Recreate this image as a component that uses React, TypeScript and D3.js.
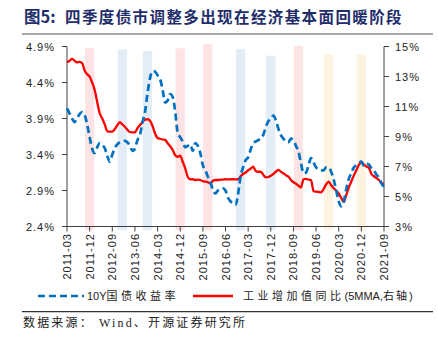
import React from "react";
import * as d3 from "d3";

const startYear = 2011;
const startMonth = 3;
const monthCount = 127;
const months: string[] = Array.from({ length: monthCount }, (_, i) => {
  const t = startMonth - 1 + i;
  const y = startYear + Math.floor(t / 12);
  const m = (t % 12) + 1;
  return `${y}-${String(m).padStart(2, "0")}`;
});

const tickLabels = [
  "2011-03", "2011-12", "2012-09", "2013-06", "2014-03", "2014-12", "2015-09", "2016-06",
  "2017-03", "2017-12", "2018-09", "2019-06", "2020-03", "2020-12", "2021-09",
];
const leftTicks = [2.4, 2.9, 3.4, 3.9, 4.4, 4.9];
const rightTicks = [3, 5, 7, 9, 11, 13, 15];

const yield10Y = [
  4.04, 3.97, 3.9, 3.85, 3.9, 3.96, 3.99, 3.95, 3.82, 3.64,
  3.48, 3.42, 3.5, 3.56, 3.53, 3.49, 3.38, 3.3, 3.4, 3.49,
  3.54, 3.57, 3.58, 3.59, 3.57, 3.52, 3.45, 3.48, 3.6, 3.67,
  3.85, 3.99, 4.25, 4.46, 4.56, 4.55, 4.5, 4.45, 4.3, 4.12,
  4.15, 4.24, 4.2, 4.0, 3.7, 3.64, 3.58, 3.5, 3.52, 3.54,
  3.45, 3.56, 3.52, 3.42, 3.25, 3.18, 3.09, 3.02, 2.9, 2.86,
  2.9, 2.92, 2.93, 2.9, 2.8, 2.75, 2.72, 2.7, 2.85, 3.1,
  3.22, 3.32, 3.36, 3.47, 3.56, 3.58, 3.6, 3.62, 3.67, 3.78,
  3.86, 3.9, 3.94, 3.88, 3.76, 3.67, 3.62, 3.58, 3.57, 3.62,
  3.6, 3.52, 3.44, 3.28, 3.14, 3.15, 3.25, 3.35, 3.29, 3.22,
  3.2, 3.18, 3.18, 3.22, 3.22, 3.16, 3.05, 2.9, 2.75, 2.68,
  2.74, 2.92, 3.06, 3.14, 3.22, 3.25, 3.28, 3.3, 3.24, 3.27,
  3.26, 3.21, 3.18, 3.12, 3.08, 3.0, 2.95,
];

const ivaYoY5MMA = [
  13.95, 14.05, 14.17, 14.05, 13.95, 13.98, 13.9, 13.4, 13.15, 12.99,
  12.6, 12.1, 11.3, 10.55, 10.2, 9.8, 9.35, 9.32, 9.32, 9.5,
  9.75, 9.95, 9.8, 9.65, 9.45, 9.3, 9.28, 9.28, 9.55, 9.77,
  9.95, 10.12, 10.15, 10.05, 9.7, 9.2, 8.9, 8.85, 8.8, 8.77,
  8.55, 8.35, 8.1, 7.75, 7.65, 7.72, 7.3, 6.88, 6.3, 6.15,
  6.15, 6.1, 6.12, 6.1, 6.02, 5.99, 5.95, 5.88, 6.05, 6.1,
  6.1, 6.12, 6.13, 6.15, 6.14, 6.15, 6.15, 6.14, 6.15, 6.35,
  6.5, 6.6, 6.75, 6.85, 6.99, 6.7, 6.65, 6.65, 6.45, 6.28,
  6.3, 6.38, 6.5, 6.65, 6.77, 6.65, 6.55, 6.42, 6.32, 6.1,
  5.95, 5.85, 5.72, 5.6, 6.15, 6.18, 6.12, 6.1, 5.35, 5.32,
  5.3, 5.28, 5.5, 5.8, 5.99, 5.75, 5.55, 5.4, 5.2, 4.9,
  4.65, 5.1, 5.6, 6.0, 6.4, 6.75, 7.1, 7.32, 7.12, 7.0,
  6.9, 6.5, 6.35, 6.22, 6.1, 5.88, 5.85,
];

const bandCenters = [
  "2011-12", "2013-01", "2013-11", "2014-12", "2015-11",
  "2016-12", "2017-12", "2018-11", "2019-11", "2020-12",
];
const bandTops = [4.875, 4.861, 4.838, 4.875, 4.93, 4.861, 4.772, 4.907, 4.79, 4.79];
const bandKinds = ["pink", "blue", "blue", "pink", "pink", "blue", "blue", "pink", "yellow", "yellow"];

const titleText = "四季度债市调整多出现在经济基本面回暖阶段";

const bandColor: Record<string, string> = {
  pink: "#fde3e3",
  blue: "#e2edf8",
  yellow: "#fdf3e0",
};

const W = 438;
const H = 338;
const plotL = 67;
const plotR = 384;
const plotT = 46.5;
const plotB = 226.5;
const bandWidthMonths = 3.7;
const bandBottom = 2.35;

const latin = "'Liberation Sans', Arial, Helvetica, sans-serif";
const cjk = "'Liberation Sans', 'Noto Sans CJK SC', sans-serif";

export default function App() {
  const x = d3.scaleLinear().domain([0, monthCount - 1]).range([plotL, plotR]);
  const yL = d3.scaleLinear().domain([2.4, 4.9]).range([plotB, plotT]);
  const yR = d3.scaleLinear().domain([3, 15]).range([plotB, plotT]);

  const lineL = d3
    .line<number>()
    .x((_, i) => x(i))
    .y((d) => yL(d))
    .curve(d3.curveMonotoneX);
  const lineR = d3
    .line<number>()
    .x((_, i) => x(i))
    .y((d) => yR(d))
    .curve(d3.curveMonotoneX);

  const axisColor = "#404040";
  const titleChars = Array.from(titleText);
  const titleStep = 338 / titleChars.length;

  return (
    <svg
      width={W}
      height={H}
      style={{ position: "absolute", left: 0, top: 0, background: "#fff" }}
    >
      {/* title */}
      <text x={24} y={23} fontFamily="'Noto Sans CJK SC', sans-serif" fontWeight="bold" fontSize={16.5} fill="#1f2d6b">
        图5:
      </text>
      <text
        y={23}
        fontFamily="'Noto Sans CJK SC', sans-serif"
        fontWeight="bold"
        fontSize={15.5}
        fill="#1f2d6b"
      >
        {titleChars.map((ch, i) => (
          <tspan key={i} x={65 + i * titleStep}>
            {ch}
          </tspan>
        ))}
      </text>
      <line x1={22} x2={433} y1={34} y2={34} stroke="#8c8c8c" strokeWidth={1.6} />

      {/* bands */}
      {bandCenters.map((c, i) => {
        const idx = months.indexOf(c);
        const x0 = x(idx - bandWidthMonths / 2);
        const x1 = x(idx + bandWidthMonths / 2);
        const yt = yL(bandTops[i]);
        return (
          <rect
            key={c}
            x={x0}
            y={yt}
            width={x1 - x0}
            height={yL(bandBottom) - yt}
            fill={bandColor[bandKinds[i]]}
          />
        );
      })}

      {/* axes */}
      <line x1={plotL} x2={plotL} y1={plotT} y2={plotB} stroke={axisColor} strokeWidth={1} />
      <line x1={plotR} x2={plotR} y1={plotT} y2={plotB} stroke={axisColor} strokeWidth={1} />
      <line x1={plotL} x2={plotR} y1={plotB} y2={plotB} stroke={axisColor} strokeWidth={1} />

      {leftTicks.map((t) => (
        <g key={"l" + t}>
          <line x1={plotL - 5} x2={plotL} y1={yL(t)} y2={yL(t)} stroke={axisColor} />
          <text
            x={55}
            y={yL(t)}
            textAnchor="end"
            dominantBaseline="central"
            fontFamily={latin}
            fontSize={11}
            letterSpacing={1}
            fill="#222"
          >
            {t.toFixed(1)}%
          </text>
        </g>
      ))}
      {rightTicks.map((t) => (
        <g key={"r" + t}>
          <line x1={plotR} x2={plotR + 5} y1={yR(t)} y2={yR(t)} stroke={axisColor} />
          <text
            x={395}
            y={yR(t)}
            textAnchor="start"
            dominantBaseline="central"
            fontFamily={latin}
            fontSize={11}
            letterSpacing={1}
            fill="#222"
          >
            {t}%
          </text>
        </g>
      ))}
      {tickLabels.map((lab) => {
        const xi = x(months.indexOf(lab));
        return (
          <g key={lab}>
            <line x1={xi} x2={xi} y1={plotB} y2={plotB + 5} stroke={axisColor} />
            <text
              transform={`translate(${xi},233) rotate(-90)`}
              textAnchor="end"
              dominantBaseline="central"
              fontFamily={latin}
              fontSize={11}
              letterSpacing={1}
              fill="#222"
            >
              {lab}
            </text>
          </g>
        );
      })}

      {/* series */}
      <path d={lineR(ivaYoY5MMA) || ""} fill="none" stroke="#ff0000" strokeWidth={2.3} />
      <path
        d={lineL(yield10Y) || ""}
        fill="none"
        stroke="#0070c0"
        strokeWidth={2.7}
        strokeDasharray="7,4"
      />

      {/* legend */}
      <line x1={38} x2={84} y1={296} y2={296} stroke="#0070c0" strokeWidth={2.7} strokeDasharray="7,4" />
      <text x={87} y={296} dominantBaseline="central" fontFamily={cjk} fontSize={11} fill="#222">
        10Y<tspan letterSpacing={3.5}>国债收益率</tspan>
      </text>
      <line x1={193} x2={233} y1={296} y2={296} stroke="#ff0000" strokeWidth={2.3} />
      <text x={243} y={296} dominantBaseline="central" fontFamily={cjk} fontSize={11} fill="#222">
        <tspan letterSpacing={3.5}>工业增加值同比</tspan>(5MMA,<tspan letterSpacing={2}>右轴</tspan>)
      </text>

      {/* source */}
      <line x1={22} x2={433} y1={311.7} y2={311.7} stroke="#333" strokeWidth={1.3} />
      <text
        x={23}
        y={323}
        dominantBaseline="central"
        fontFamily="'Liberation Serif', 'Noto Sans CJK SC', serif"
        fontSize={12}
        textLength={222}
        lengthAdjust="spacing"
        fill="#222"
      >
        数据来源： Wind、开源证券研究所
      </text>
    </svg>
  );
}
